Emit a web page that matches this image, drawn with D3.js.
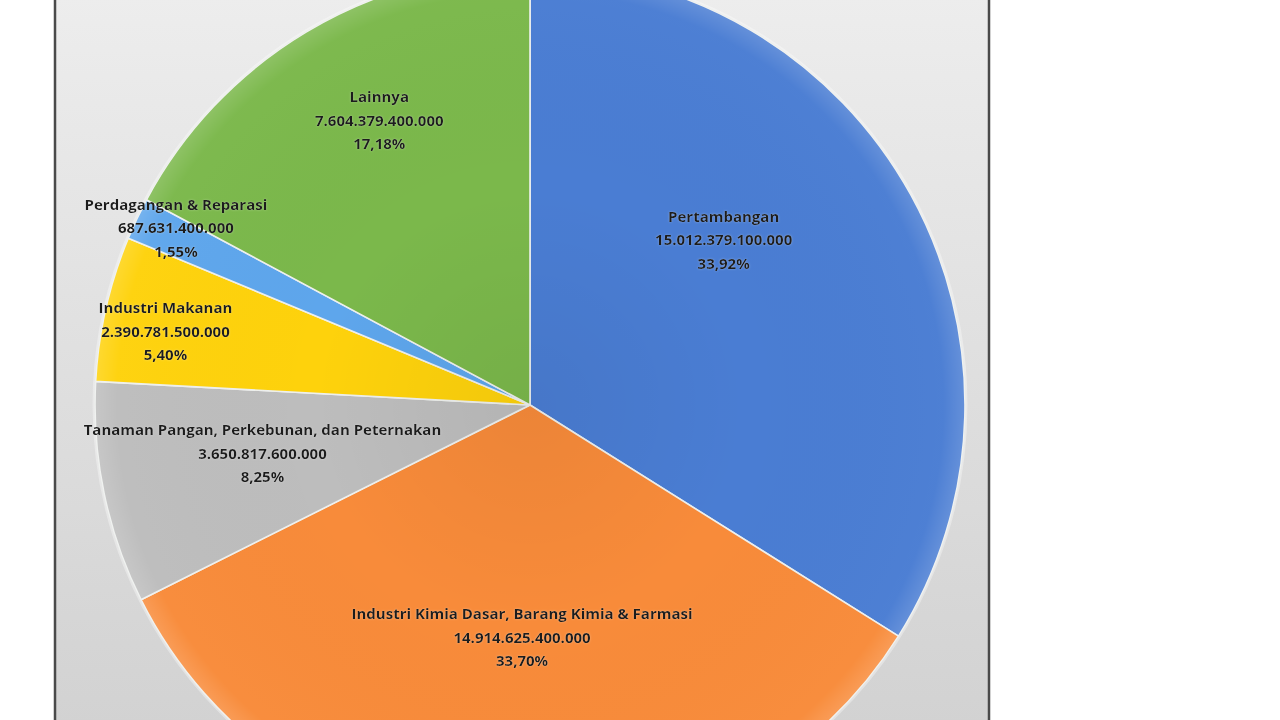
<!DOCTYPE html>
<html lang="id">
<head>
<meta charset="utf-8">
<title>Realisasi Investasi per Sektor</title>
<script src="https://d3js.org/d3.v7.min.js"></script>
<style>
  html, body { margin: 0; padding: 0; background: #ffffff; }
  svg { display: block; }
  .lbl { font-family: "Open Sans", "Noto Sans", sans-serif; font-weight: 700; fill: #1c1c1c; }
</style>
</head>
<body>
<div id="chart"></div>
<script>
// data (order = clockwise from 12 o'clock)
var sectors = ["Pertambangan", "Industri Kimia Dasar, Barang Kimia & Farmasi",
               "Tanaman Pangan, Perkebunan, dan Peternakan", "Industri Makanan",
               "Perdagangan & Reparasi", "Lainnya"];
var values = [15012379100000, 14914625400000, 3650817600000, 2390781500000,
              687631400000, 7604379400000];
var valueLabels = ["15.012.379.100.000", "14.914.625.400.000", "3.650.817.600.000",
                   "2.390.781.500.000", "687.631.400.000", "7.604.379.400.000"];
var percentLabels = ["33,92%", "33,70%", "8,25%", "5,40%", "1,55%", "17,18%"];
var colors = ["#4a7dd3", "#f88b3a", "#bdbdbd", "#fed20c", "#5ea6ec", "#7bb84b"];

// label placement (radius fraction, angle shift in degrees) -- mimics Excel best fit
var labelPlace = [[0.585, -11.5], [0.535, -0.8], [0.625, 1.5], [0.855, -1.4], [0.91, 1.2], [0.74, 3]];

var W = 1280, H = 720;
var cx = 530, cy = 405, R = 435;

var svg = d3.select("#chart").append("svg")
    .attr("width", W).attr("height", H);

var defs = svg.append("defs");

// chart area background gradient
var bg = defs.append("linearGradient").attr("id", "bgGrad")
    .attr("x1", 0).attr("y1", 0).attr("x2", 0).attr("y2", 1);
bg.append("stop").attr("offset", "0%").attr("stop-color", "#ededed");
bg.append("stop").attr("offset", "100%").attr("stop-color", "#d2d2d2");

// soft shading over slices (coordinates local to the pie group)
var shade = defs.append("radialGradient").attr("id", "shade")
    .attr("gradientUnits", "userSpaceOnUse")
    .attr("cx", 0).attr("cy", 0).attr("r", R);
shade.append("stop").attr("offset", "0%").attr("stop-color", "#000").attr("stop-opacity", 0.05);
shade.append("stop").attr("offset", "50%").attr("stop-color", "#000").attr("stop-opacity", 0);
shade.append("stop").attr("offset", "95%").attr("stop-color", "#fff").attr("stop-opacity", 0.02);
shade.append("stop").attr("offset", "100%").attr("stop-color", "#fff").attr("stop-opacity", 0.15);

var glow = defs.append("filter").attr("id", "glow")
    .attr("x", "-10%").attr("y", "-30%").attr("width", "120%").attr("height", "160%");
glow.append("feGaussianBlur").attr("in", "SourceAlpha").attr("stdDeviation", 1.2).attr("result", "b");
glow.append("feFlood").attr("flood-color", "#ffffff").attr("flood-opacity", 0.3);
glow.append("feComposite").attr("in2", "b").attr("operator", "in").attr("result", "g");
var gm = glow.append("feMerge");
gm.append("feMergeNode").attr("in", "g");
gm.append("feMergeNode").attr("in", "SourceGraphic");

// chart box
svg.append("rect")
    .attr("x", 55).attr("y", -5)
    .attr("width", 934).attr("height", H + 10)
    .attr("fill", "url(#bgGrad)")
    .attr("stroke", "#4a4a4a").attr("stroke-width", 2.5);

var pie = d3.pie().sort(null).value(function(d) { return d; });
var arcs = pie(values);
var arc = d3.arc().innerRadius(0).outerRadius(R);

var g = svg.append("g").attr("transform", "translate(" + cx + "," + cy + ")");

// faint outer halo
g.append("circle").attr("r", R + 1.5)
    .attr("fill", "none").attr("stroke", "#ffffff").attr("stroke-opacity", 0.35).attr("stroke-width", 2);

g.selectAll("path.slice")
  .data(arcs)
  .enter().append("path")
    .attr("class", "slice")
    .attr("d", arc)
    .attr("fill", function(d, i) { return colors[i]; })
    .attr("stroke", "#eef0ee")
    .attr("stroke-width", 1.6)
    .attr("stroke-linejoin", "round");

g.selectAll("path.shade")
  .data(arcs)
  .enter().append("path")
    .attr("class", "shade")
    .attr("d", arc)
    .attr("fill", "url(#shade)")
    .style("pointer-events", "none");

// labels
var lineH = 23.5;
var labels = g.selectAll("text.lbl")
  .data(arcs)
  .enter().append("text")
    .attr("class", "lbl")
    .attr("filter", "url(#glow)")
    .attr("text-anchor", "middle")
    .style("font-size", "15px")
    .attr("transform", function(d, i) {
      var a = (d.startAngle + d.endAngle) / 2 + labelPlace[i][1] * Math.PI / 180;
      var r = R * labelPlace[i][0];
      return "translate(" + (r * Math.sin(a)) + "," + (-r * Math.cos(a)) + ")";
    });

labels.each(function(d, i) {
  var t = d3.select(this);
  var lines = [sectors[i], valueLabels[i], percentLabels[i]];
  lines.forEach(function(s, k) {
    t.append("tspan")
      .attr("x", 0)
      .attr("y", (k - 1) * lineH)
      .attr("dy", "0.35em")
      .text(s);
  });
});
</script>
</body>
</html>
